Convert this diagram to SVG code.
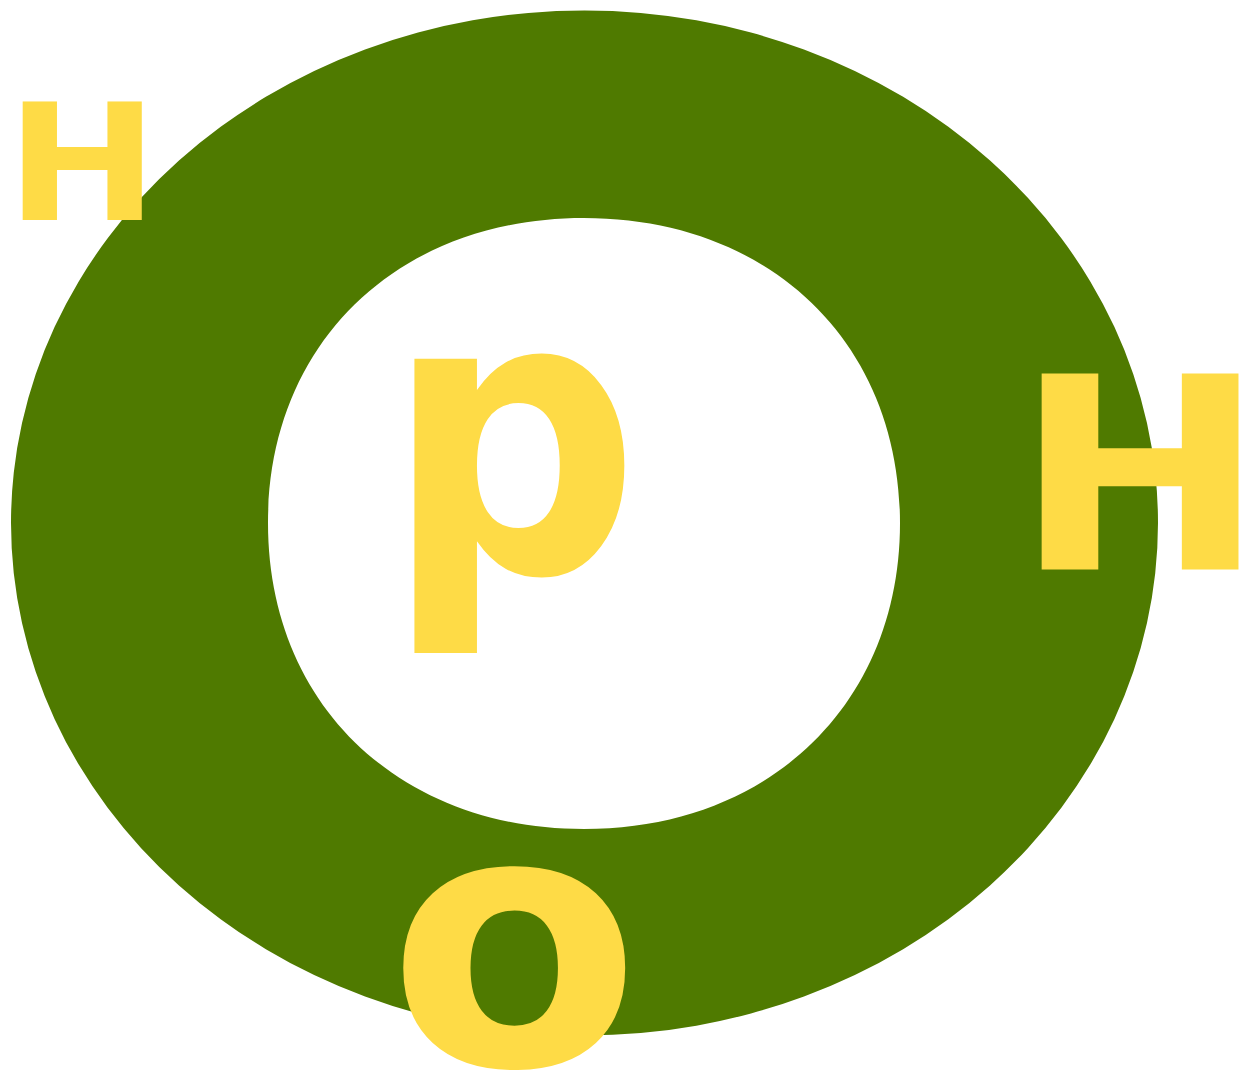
<svg xmlns="http://www.w3.org/2000/svg" width="1245" height="1070" viewBox="0 0 1245 1070">
<style>
.l{font-family:"DejaVu Sans",sans-serif;font-weight:bold;fill:#FEDB46}
</style>
<rect width="1245" height="1070" fill="#ffffff"/>
<g id="ring">
<path fill="#4F7A00" fill-rule="evenodd" d="M11,523 A573.5,512.5 0 1,0 1158,523 A573.5,512.5 0 1,0 11,523 Z M584,218 C770,218 900,343 900,523 C900,703 770,829 584,829 C398,829 268,703 268,523 C268,343 398,218 584,218 Z"/>
</g>
<g id="h1"><text class="l" font-size="162" transform="translate(6,220) scale(1.125,1)">H</text></g>
<g id="p"><text class="l" font-size="390" transform="translate(384.4,572) scale(0.917,1)">p</text></g>
<g id="h2"><text class="l" font-size="269" transform="translate(1014,569.5) scale(1.12,1)">H</text></g>
<g id="o"><text class="l" font-size="355" transform="translate(387.4,1065) scale(1.04,1)">o</text></g>
</svg>
